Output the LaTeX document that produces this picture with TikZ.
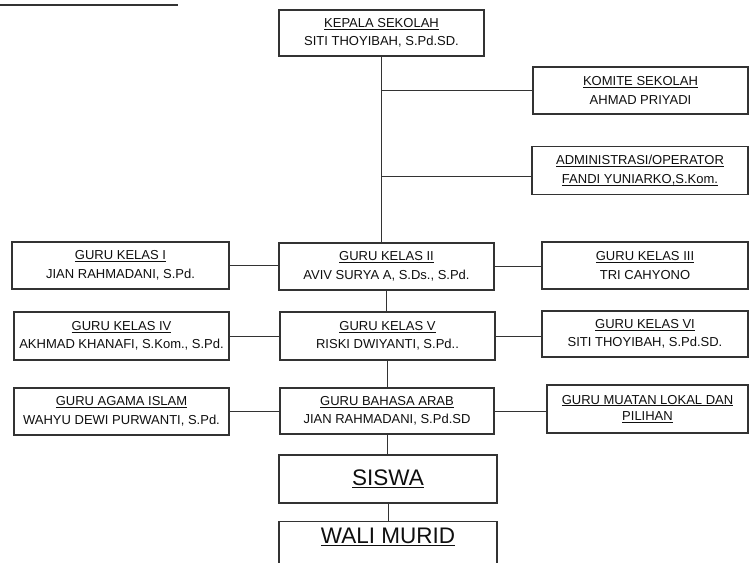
\documentclass[tikz,border=0pt]{standalone}
\usepackage{fontspec}
\setmainfont{Liberation Sans}
\definecolor{txtc}{HTML}{0F0F0F}
\definecolor{boxc}{HTML}{333333}
\newcommand{\ulx}[1]{\setbox0\hbox{#1}\leavevmode\rlap{\rule[-2.2pt]{\wd0}{0.9pt}}\box0}
\newcommand{\ulbig}[1]{\setbox0\hbox{#1}\leavevmode\rlap{\rule[-3.2pt]{\wd0}{1.5pt}}\box0}
\tikzset{
  orgbox/.style={draw=boxc, line width=1.2pt, inner sep=0pt, align=center, text=txtc,
    font=\fontsize{13}{18.5}\selectfont},
  bigbox/.style={draw=boxc, line width=1.2pt, inner sep=0pt, align=center, text=txtc,
    font=\fontsize{22.5}{26}\selectfont},
  bigtext/.style={inner sep=0pt, text=txtc, font=\fontsize{22.5}{26}\selectfont},
  conn/.style={draw=boxc, line width=0.9pt}
}
\begin{document}
\begin{tikzpicture}[x=1pt,y=-1pt]
\path[use as bounding box] (0,0) rectangle (749,562);
\clip (0,0) rectangle (749,562);
\fill[white] (0,0) rectangle (749,562);

\coordinate (tl0) at (0,5);
\coordinate (tl1) at (178,5);
\draw[boxc, line width=2pt] (tl0) -- (tl1);

\node[orgbox, minimum width=205pt, minimum height=46pt] (kepala) at (381.5,33)
  {\ulx{KEPALA SEKOLAH}\\SITI THOYIBAH, S.Pd.SD.};
\node[orgbox, minimum width=215pt, minimum height=47pt] (komite) at (640.5,90.5)
  {\ulx{KOMITE SEKOLAH}\\AHMAD PRIYADI};
\node[orgbox, minimum width=216pt, minimum height=48pt] (admin) at (640,170.5)
  {\ulx{ADMINISTRASI/OPERATOR}\\\ulx{FANDI YUNIARKO,S.Kom.}};

\node[orgbox, minimum width=217pt, minimum height=47pt] (k1) at (120.5,265.5)
  {\ulx{GURU KELAS I}\\JIAN RAHMADANI, S.Pd.};
\node[orgbox, minimum width=215pt, minimum height=47pt] (k2) at (386.5,266.5)
  {\ulx{GURU KELAS II}\\AVIV SURYA A, S.Ds., S.Pd.};
\node[orgbox, minimum width=206pt, minimum height=47pt] (k3) at (645,265.5)
  {\ulx{GURU KELAS III}\\TRI CAHYONO};

\node[orgbox, minimum width=215pt, minimum height=48pt] (k4) at (121.5,336)
  {\ulx{GURU KELAS IV}\\AKHMAD KHANAFI, S.Kom., S.Pd.};
\node[orgbox, minimum width=215pt, minimum height=48pt] (k5) at (387.5,336)
  {\ulx{GURU KELAS V}\\RISKI DWIYANTI, S.Pd..};
\node[orgbox, minimum width=206pt, minimum height=46pt] (k6) at (645,334)
  {\ulx{GURU KELAS VI}\\SITI THOYIBAH, S.Pd.SD.};

\node[orgbox, minimum width=215pt, minimum height=47pt] (agama) at (121.5,411.5)
  {\ulx{GURU AGAMA ISLAM}\\WAHYU DEWI PURWANTI, S.Pd.};
\node[orgbox, minimum width=214pt, minimum height=46pt] (arab) at (387,411)
  {\ulx{GURU BAHASA ARAB}\\JIAN RAHMADANI, S.Pd.SD};
\node[orgbox, minimum width=201pt, minimum height=48pt, font=\fontsize{13}{16.5}\selectfont] (muatan) at (647.5,409)
  {\ulx{GURU MUATAN LOKAL DAN}\\\ulx{PILIHAN}};

\node[bigbox, minimum width=218pt, minimum height=48pt] (siswa) at (388,479)
  {\ulbig{SISWA}};
\node[bigbox, minimum width=218pt, minimum height=70pt, anchor=north] (wali) at (388,521) {};
\node[bigtext] (walitext) at (388,537) {\ulbig{WALI MURID}};

% connectors
\draw[conn] (kepala.south) -- (kepala.south |- k2.north);
\draw[conn] (kepala.south |- komite.west) -- (komite.west);
\coordinate (aw) at ([yshift=-6pt]admin.west);
\draw[conn] (kepala.south |- aw) -- (aw);

\draw[conn] (k1.east) -- (k1.east -| k2.west);
\draw[conn] (k2.east) -- (k2.east -| k3.west);
\draw[conn] (k4.east) -- (k4.east -| k5.west);
\draw[conn] (k5.east) -- (k5.east -| k6.west);
\draw[conn] (agama.east) -- (agama.east -| arab.west);
\draw[conn] (arab.east) -- (arab.east -| muatan.west);

\draw[conn] (k2.south) -- (k2.south |- k5.north);
\draw[conn] (k5.south) -- (k5.south |- arab.north);
\draw[conn] (arab.south) -- (arab.south |- siswa.north);
\draw[conn] (siswa.south) -- (siswa.south |- wali.north);
\end{tikzpicture}
\end{document}
